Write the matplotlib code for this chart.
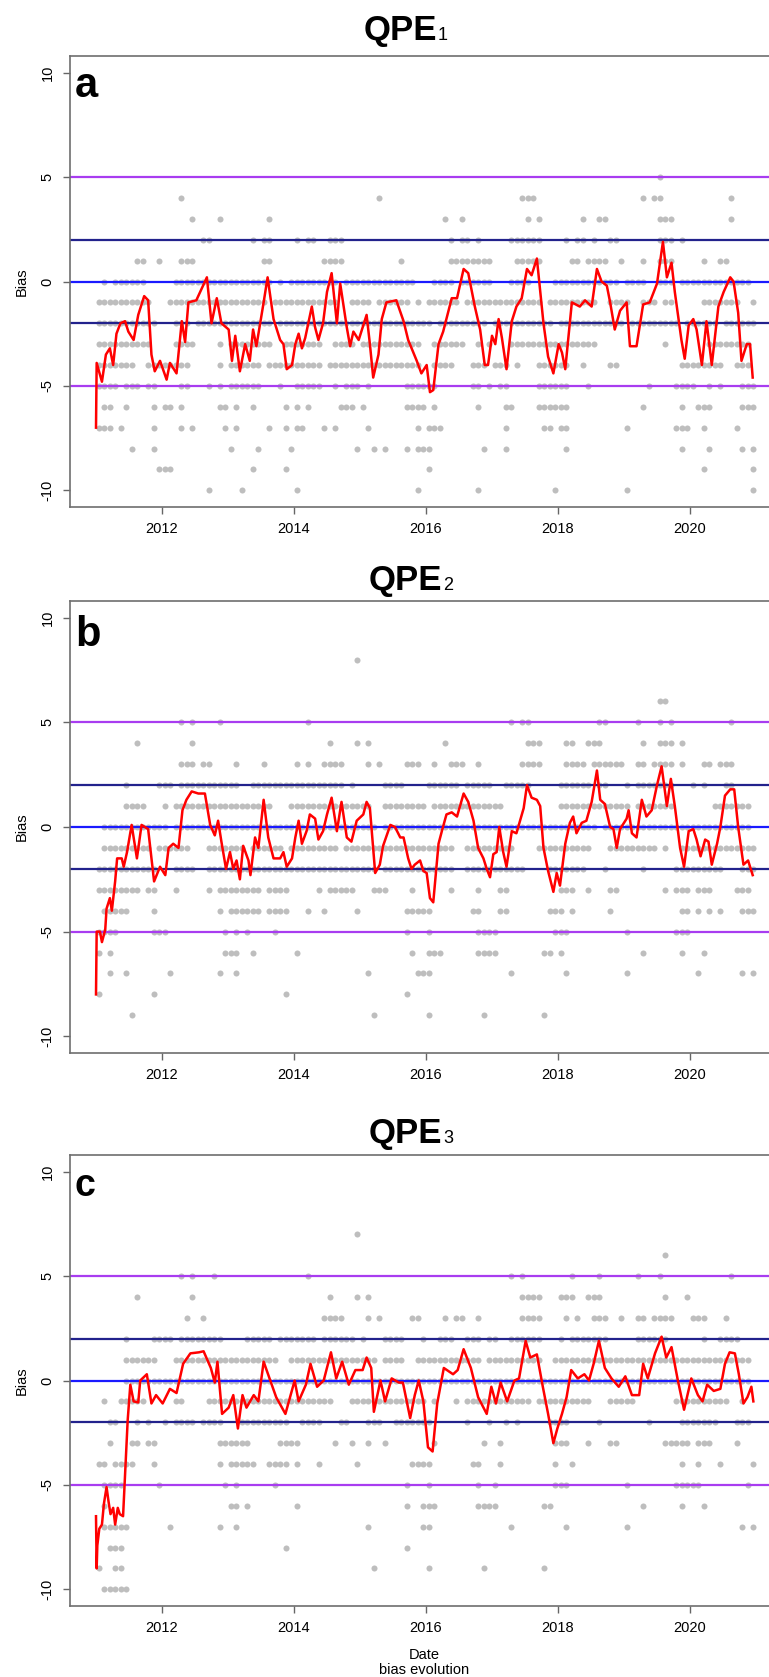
import numpy as np
import matplotlib
matplotlib.use('Agg')
import matplotlib.pyplot as plt

plt.rcParams['font.family'] = ['Liberation Sans', 'DejaVu Sans']

# running mean of the bias (red line), decimal year / value
a_year = [2011.00, 2011.01, 2011.09, 2011.15, 2011.21, 2011.26, 2011.31, 2011.37, 2011.44, 2011.49,
          2011.57, 2011.64, 2011.73, 2011.79, 2011.84, 2011.89, 2011.97, 2012.07, 2012.12, 2012.22,
          2012.30, 2012.35, 2012.40, 2012.52, 2012.68, 2012.75, 2012.83, 2012.90, 2013.01, 2013.06,
          2013.11, 2013.18, 2013.26, 2013.33, 2013.38, 2013.43, 2013.54, 2013.60, 2013.69, 2013.79,
          2013.84, 2013.89, 2013.97, 2014.02, 2014.07, 2014.12, 2014.17, 2014.27, 2014.32, 2014.37,
          2014.44, 2014.50, 2014.57, 2014.65, 2014.70, 2014.80, 2014.85, 2014.90, 2014.98, 2015.10,
          2015.15, 2015.20, 2015.28, 2015.33, 2015.40, 2015.55, 2015.66, 2015.73, 2015.86, 2015.93,
          2016.01, 2016.06, 2016.11, 2016.19, 2016.26, 2016.39, 2016.47, 2016.57, 2016.64, 2016.74,
          2016.82, 2016.89, 2016.94, 2017.00, 2017.05, 2017.10, 2017.15, 2017.22, 2017.30, 2017.37,
          2017.45, 2017.53, 2017.60, 2017.68, 2017.78, 2017.85, 2017.93, 2018.01, 2018.06, 2018.11,
          2018.21, 2018.33, 2018.41, 2018.51, 2018.59, 2018.66, 2018.74, 2018.79, 2018.86, 2018.94,
          2019.04, 2019.09, 2019.19, 2019.29, 2019.39, 2019.50, 2019.59, 2019.65, 2019.72, 2019.77,
          2019.87, 2019.92, 2019.98, 2020.05, 2020.10, 2020.18, 2020.25, 2020.33, 2020.43, 2020.51,
          2020.61, 2020.66, 2020.73, 2020.78, 2020.86, 2020.91, 2020.95]
a_bias = [-7.0, -3.9, -4.8, -3.5, -3.2, -4.0, -2.5, -2.0, -1.9, -2.4,
          -2.8, -1.6, -0.7, -0.9, -3.5, -4.3, -3.8, -4.7, -3.9, -4.4,
          -1.9, -2.9, -1.0, -0.9, 0.2, -2.0, -0.8, -2.0, -2.3, -3.8,
          -2.6, -4.3, -3.0, -3.8, -2.3, -3.1, -1.0, 0.2, -1.8, -2.8,
          -3.0, -4.2, -4.0, -3.0, -2.5, -3.2, -2.7, -1.2, -2.2, -2.8,
          -2.0, -0.5, 0.4, -2.0, -0.1, -2.2, -3.1, -2.4, -2.8, -1.6,
          -3.0, -4.6, -3.5, -1.8, -1.0, -0.9, -1.9, -2.8, -3.8, -4.4,
          -4.0, -5.3, -5.2, -3.0, -2.4, -0.8, -0.8, 0.6, 0.4, -1.2,
          -2.3, -4.0, -4.0, -2.6, -3.0, -1.8, -2.7, -4.2, -1.9, -1.2,
          -0.8, 0.6, 0.3, 1.1, -2.0, -3.6, -4.4, -3.0, -3.4, -4.2,
          -1.0, -1.2, -0.9, -1.2, 0.6, 0.0, -0.2, -1.0, -2.3, -1.4,
          -1.0, -3.1, -3.1, -1.1, -1.0, -0.1, 1.9, 0.2, 0.9, -0.5,
          -2.8, -3.7, -2.1, -1.8, -2.3, -4.0, -1.9, -4.0, -1.2, -0.5,
          0.2, 0.0, -1.5, -3.8, -3.0, -3.0, -4.6]

b_year = [2011.00, 2011.01, 2011.06, 2011.09, 2011.14, 2011.16, 2011.21, 2011.24, 2011.29, 2011.32,
          2011.39, 2011.42, 2011.47, 2011.54, 2011.62, 2011.69, 2011.79, 2011.88, 2011.97, 2012.05,
          2012.10, 2012.17, 2012.25, 2012.31, 2012.37, 2012.45, 2012.55, 2012.65, 2012.73, 2012.80,
          2012.85, 2012.90, 2012.97, 2013.03, 2013.08, 2013.13, 2013.18, 2013.23, 2013.31, 2013.34,
          2013.41, 2013.46, 2013.54, 2013.61, 2013.69, 2013.79, 2013.84, 2013.89, 2013.97, 2014.02,
          2014.07, 2014.12, 2014.19, 2014.24, 2014.32, 2014.37, 2014.44, 2014.50, 2014.57, 2014.65,
          2014.72, 2014.80, 2014.87, 2014.95, 2015.05, 2015.10, 2015.15, 2015.23, 2015.30, 2015.35,
          2015.46, 2015.53, 2015.61, 2015.66, 2015.73, 2015.78, 2015.83, 2015.91, 2015.96, 2016.01,
          2016.06, 2016.11, 2016.19, 2016.24, 2016.31, 2016.39, 2016.47, 2016.57, 2016.64, 2016.72,
          2016.79, 2016.87, 2016.92, 2016.97, 2017.02, 2017.07, 2017.11, 2017.17, 2017.22, 2017.30,
          2017.37, 2017.48, 2017.53, 2017.60, 2017.68, 2017.73, 2017.78, 2017.85, 2017.93, 2017.98,
          2018.03, 2018.11, 2018.18, 2018.23, 2018.28, 2018.36, 2018.43, 2018.51, 2018.59, 2018.64,
          2018.71, 2018.79, 2018.84, 2018.89, 2018.94, 2019.04, 2019.07, 2019.12, 2019.19, 2019.27,
          2019.34, 2019.42, 2019.50, 2019.57, 2019.65, 2019.71, 2019.77, 2019.85, 2019.91, 2019.98,
          2020.05, 2020.10, 2020.16, 2020.23, 2020.28, 2020.33, 2020.41, 2020.46, 2020.53, 2020.61,
          2020.67, 2020.73, 2020.81, 2020.88, 2020.95]
b_bias = [-8.0, -5.0, -5.0, -5.5, -4.9, -3.9, -3.4, -4.0, -2.6, -1.5,
          -1.5, -1.9, -1.2, 0.1, -1.5, 0.1, -0.1, -2.6, -1.9, -2.3,
          -1.0, -0.8, -1.0, 0.8, 1.3, 1.7, 1.6, 1.6, 0.1, -0.4,
          0.3, -0.7, -2.0, -1.2, -2.0, -1.6, -2.5, -0.9, -1.6, -2.3,
          -0.5, -1.0, 1.3, -0.5, -1.5, -1.5, -1.2, -1.9, -1.5, -0.5,
          0.3, -0.8, -0.2, 0.6, 0.4, -0.6, -0.2, 0.6, 1.4, -0.2,
          1.2, -0.5, -0.7, 0.3, 0.6, 1.2, 0.9, -2.2, -1.8, -0.9,
          0.1, 0.0, -0.5, -0.5, -1.5, -2.0, -1.8, -1.6, -2.1, -2.2,
          -3.4, -3.6, -0.8, -0.2, 0.6, 0.7, 0.5, 1.6, 1.2, 0.3,
          -1.0, -1.5, -2.0, -2.4, -1.3, -1.2, 0.0, -1.2, -1.9, -0.2,
          -0.3, 0.9, 2.0, 1.4, 1.3, 1.0, -1.0, -2.1, -3.1, -2.2,
          -2.8, -0.8, 0.2, 0.5, -0.3, 0.2, 0.3, 1.2, 2.7, 1.3,
          1.1, 0.0, -0.1, -1.0, -0.1, 0.4, 0.8, -0.3, -0.5, 1.3,
          0.5, 0.8, 2.0, 2.9, 1.0, 2.3, 1.0, -1.0, -1.9, -0.2,
          -0.1, -0.6, -1.4, -0.6, -0.7, -1.8, -0.8, 0.0, 1.5, 1.8,
          1.8, 0.0, -1.8, -1.6, -2.3]

c_year = [2011.00, 2011.01, 2011.02, 2011.05, 2011.09, 2011.12, 2011.16, 2011.19, 2011.22, 2011.26,
          2011.29, 2011.33, 2011.36, 2011.41, 2011.45, 2011.48, 2011.52, 2011.57, 2011.64, 2011.67,
          2011.77, 2011.84, 2011.91, 2012.01, 2012.12, 2012.22, 2012.32, 2012.43, 2012.56, 2012.63,
          2012.74, 2012.80, 2012.84, 2012.91, 2013.01, 2013.08, 2013.15, 2013.22, 2013.28, 2013.39,
          2013.46, 2013.54, 2013.63, 2013.73, 2013.87, 2013.94, 2014.01, 2014.07, 2014.18, 2014.25,
          2014.35, 2014.45, 2014.56, 2014.64, 2014.73, 2014.83, 2014.93, 2015.04, 2015.10, 2015.17,
          2015.21, 2015.31, 2015.38, 2015.48, 2015.59, 2015.65, 2015.76, 2015.83, 2015.89, 2015.96,
          2016.03, 2016.10, 2016.17, 2016.27, 2016.41, 2016.48, 2016.57, 2016.68, 2016.79, 2016.92,
          2016.99, 2017.06, 2017.13, 2017.23, 2017.34, 2017.41, 2017.51, 2017.58, 2017.68, 2017.77,
          2017.85, 2017.93, 2017.99, 2018.06, 2018.13, 2018.20, 2018.30, 2018.40, 2018.47, 2018.54,
          2018.62, 2018.71, 2018.81, 2018.92, 2019.02, 2019.12, 2019.23, 2019.29, 2019.36, 2019.47,
          2019.57, 2019.64, 2019.72, 2019.81, 2019.91, 2020.02, 2020.12, 2020.19, 2020.26, 2020.36,
          2020.46, 2020.53, 2020.60, 2020.68, 2020.74, 2020.81, 2020.87, 2020.93, 2020.96]
c_bias = [-6.5, -9.0, -7.9, -7.1, -6.9, -5.9, -5.1, -5.8, -6.4, -6.1,
          -6.9, -6.1, -6.4, -6.5, -3.9, -1.9, -0.2, -1.0, -1.05, 0.0,
          0.3, -1.1, -0.7, -1.1, -0.4, -0.6, 0.8, 1.3, 1.35, 1.4,
          0.6, -0.1, 0.9, -1.6, -1.3, -0.7, -2.3, -0.7, -1.3, -0.7,
          -1.0, 0.9, 0.1, -0.8, -1.6, -0.8, 0.0, -1.0, -0.2, 0.8,
          -0.3, 0.0, 1.35, 0.1, 0.9, -0.2, 0.5, 0.5, 1.1, 0.6,
          -1.5, 0.0, -1.0, 0.1, -0.1, -0.1, -1.8, -0.7, 0.0, -1.0,
          -3.2, -3.4, -1.1, 0.6, 0.3, 0.5, 1.5, 0.6, -0.8, -1.6,
          -0.3, -1.1, -0.1, -1.0, 0.0, 0.1, 1.9, 1.1, 1.25, -0.3,
          -1.6, -3.0, -2.3, -1.6, -0.8, 0.5, 0.1, 0.3, 0.0, 0.8,
          1.9, 0.6, 0.1, -0.3, 0.2, -0.7, -0.7, 0.8, 0.1, 1.3,
          2.1, 1.1, 1.6, 0.1, -1.4, 0.1, -0.7, -1.0, -0.2, -0.5,
          -0.4, 0.8, 1.35, 1.3, 0.3, -1.1, -0.8, -0.3, -1.0]

# daily integer bias values (grey dots): month index from Jan 2011 per bias level
a_dots = {
    5: "102",
    4: "15 51 77-79 99 101-102 115",
    3: "17 22 31 63 66 78 80 88 91-92 102-104 115",
    2: "19-20 28 30-31 36 38-39 42-44 64 66-67 69 75-80 85 87-88 90 93-94 102-104 106",
    1: "7-8 11 15-17 30-31 41-44 55 64-71 76-80 86-87 89-92 95 99 102-104 110 113-114",
    0: "1 3-8 14-25 26-29 30-31 33 35-43 45-57 61-64 66-67 68-71 75-78 83-88 89-94 96-99 102-104 106-110 111-118",
    -1: "0-8 9 13-21 22-24 25-30 32-43 46-49 51-56 58 60-65 67-71 72-80 82-83 84-90 93-96 99-101 103-104 110-116 119",
    -2: "0-10 14-16 18-28 29-31 33-43 44-55 56-60 62-70 72-82 84-95 97-105 107-112 114-119",
    -3: "0-9 14-17 22 24-31 34-40 43-46 48-58 61-66 69 71 75-82 83-90 103 111-118",
    -4: "0-6 9-16 22 24-29 31-40 42-48 49-52 53-58 61-64 68-70 72-74 76 80-84 85 88 93-94 106-113 116-118",
    -5: "0-3 5-7 9-10 15-16 20 22 24-29 33 36-38 39-40 43 45-47 49 56-58 59-61 68-69 71 73-74 80-85 89 100 105-108 111 113 117-119",
    -6: "1-2 5 10 12-13 15 22-23 25 28 34 36 38 44-46 48 56-58 59 61 69 74-75 80-85 99 106 109-111 117-119",
    -7: "0-2 4 10 15 17 23 25 31 34 36-37 41 43 49 58 60-62 74 81-82 84-85 96 105-107 110 116",
    -8: "6 10 24 29 35 47 50 52 56 58-60 70 74 85 106 111 117 119",
    -9: "11-13 28 34 60 110 119",
    -10: "20 26 36 58 69 83 96 119",
}
b_dots = {
    8: "47",
    6: "102-103",
    5: "15 17 22 38 75 77-78 91-92 98 102 104 115",
    4: "7 17 42 47 49 63 78-80 85-86 89-91 99 102-104 106",
    3: "15-17 19-20 25 30 36 38 41-44 49 51 56-58 61 64-66 69 77-80 85-88 90-95 98-99 101-104 106 110-111 113-115",
    2: "5 11-13 15-25 28-32 33-44 46 52-55 60-65 67-71 74-78 84-89 91-92 96 98-104 108 110 114-115",
    1: "5-8 12 14-26 27-31 35-49 52-57 58-59 61-73 84-96 98-104 112-118",
    0: "1-12 14-30 31-50 52-68 69-90 92-110 111-118",
    -1: "1-9 11-14 15-16 20-26 28-33 35-43 45-57 58-63 64 67-75 80-89 93-101 103 106-119",
    -2: "0-10 14-17 20-25 26-50 52-57 58-63 64 67-77 82-88 92 99 105-113 117-119",
    -3: "0-5 6-7 9-10 14 20 22-29 31-34 40 42-46 50-52 57 64 69 73-74 84-86 89 93-94 103 105-107 109-111 116-118",
    -4: "1-5 10 22 24-29 31-34 38 41 47 56-60 68-69 73-74 82-84 86 93 106-107 109 111 113 117-119",
    -5: "0-3 10-12 23 25 27 32 56 60 69-72 83-85 96 105-107",
    -6: "0 2 23-25 28 36 57 60-62 69-72 81-82 84 99 106 110",
    -7: "2 5 13 22 25 49 58-60 75 85 96 109 117 119",
    -8: "0 10 34 56",
    -9: "6 50 60 70 81",
}
c_dots = {
    7: "47",
    6: "103",
    5: "15 17 21 38 75 77 86 91 98 102 115",
    4: "7 17 42 47 49 77-80 84-86 89-91 103 107",
    3: "16 19 41-44 49 51 57-58 63 65-66 69 77-80 85 87 90-92 95 98-99 101-104 108-110 114",
    2: "5 10-13 15-22 27-31 33-39 41-46 48 52-55 59 62-64 67-69 71-72 75-80 84 86-92 98-103 110 113-116",
    1: "5-10 14-32 35-40 41-50 52-55 58-69 71-75 76-80 83-118",
    0: "5-118",
    -1: "1 4-8 14-15 20-42 46-59 61 65 67-74 75-78 80-89 93-97 105-114 117",
    -2: "2-3 7 9 12 14-17 19-22 26-34 37-40 44-45 49-51 54-59 60 67 71 74 76 82-85 91 100 106-112 116-118",
    -3: "2 6-7 9-10 22-27 33-36 43 46 49 52 61 70 73 83-85 89 93-94 103-107 109-111 116",
    -4: "0-1 3-6 10 22 24-28 31-34 36 40 47 57-60 68-69 73 83 86 106 109 113 119",
    -5: "1-4 11 23 25 32 56 60 69 72 83-85 96 105-109 118",
    -6: "1 24-25 27 36 56 59-61 69-72 81-82 99 106 110",
    -7: "1-5 13 22 25 49 59-60 75 85 96 117 119",
    -8: "2-4 34 56",
    -9: "0 3-4 50 60 70 81",
    -10: "1-5",
}

titles = ["1", "2", "3"]
letters = ["a", "b", "c"]


def months(spec):
    out = []
    for tok in spec.split():
        lo, _, hi = tok.partition('-')
        hi = hi or lo
        out.extend(range(int(lo), int(hi) + 1))
    return np.array(out, dtype=float)


fig = plt.figure(figsize=(7.69, 16.77), dpi=100)
H = 1677.0
W = 769.0
panels = [(a_year, a_bias, a_dots, 56, 507, 437, 40, 97, 30),
          (b_year, b_bias, b_dots, 601, 1053, 442, 590, 646, 30),
          (c_year, c_bias, c_dots, 1155, 1606, 442, 1143, 1196, 27)]

for i, (yr, bias, dots, top, bot, tx, ty, ly, lsize) in enumerate(panels):
    ax = fig.add_axes([70 / W, 1 - bot / H, 712 / W, (bot - top) / H])
    for lev, spec in dots.items():
        m = months(spec)
        ax.scatter(2011 + (m + 0.5) / 12, np.full(len(m), lev), s=19,
                   color='#bebebe', linewidths=0, zorder=1)
    ax.axhline(5, color='#a83cf0', lw=1.6, zorder=2)
    ax.axhline(-5, color='#a83cf0', lw=1.6, zorder=2)
    ax.axhline(2, color='#22228c', lw=1.6, zorder=2)
    ax.axhline(-2, color='#22228c', lw=1.6, zorder=2)
    ax.axhline(0, color='#1a1aff', lw=1.6, zorder=2)
    ax.plot(yr, bias, color='red', lw=1.8, zorder=3)

    ax.set_xlim(2010.606, 2021.394)
    ax.set_ylim(-10.8, 10.8)
    ax.set_xticks([2012, 2014, 2016, 2018, 2020])
    ax.set_xticklabels(['2012', '2014', '2016', '2018', '2020'])
    ax.set_yticks([-10, -5, 0, 5, 10])
    ax.set_yticklabels(['-10', '-5', '0', '5', '10'], rotation=90, va='center')
    ax.tick_params(length=5, width=1, color='#666666', labelsize=10.5, pad=6)
    for sp in ax.spines.values():
        sp.set_color('#6e6e6e')
        sp.set_linewidth(1.2)
    ax.set_ylabel('Bias', fontsize=10.5, va='center')
    ax.yaxis.set_label_coords(-0.0674, 0.5)

    fig.text(tx / W, 1 - ty / H, 'QPE', ha='right', va='baseline',
             fontsize=25, fontweight='bold')
    fig.text((tx + 1) / W, 1 - ty / H, titles[i], ha='left', va='baseline', fontsize=13)
    fig.text(75 / W, 1 - ly / H, letters[i], ha='left', va='baseline',
             fontsize=lsize, fontweight='bold')

fig.text(424 / W, 1 - 1659 / H, 'Date', ha='center', va='baseline', fontsize=10.5)
fig.text(424 / W, 1 - 1674 / H, 'bias evolution', ha='center', va='baseline', fontsize=10.5)

fig.savefig('out.png', dpi=100)
